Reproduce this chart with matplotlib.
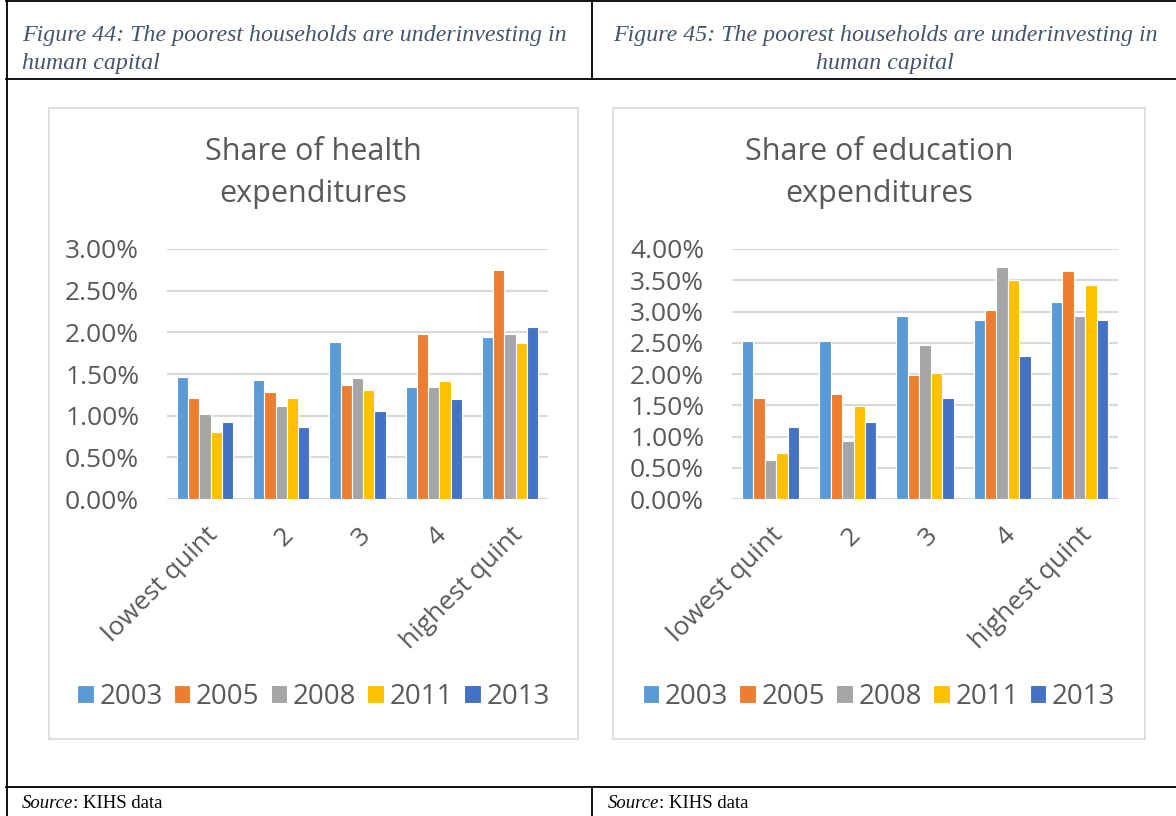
import matplotlib
matplotlib.use("Agg")
import matplotlib.pyplot as plt
from matplotlib.lines import Line2D
from matplotlib.patches import Rectangle
from matplotlib.ticker import FuncFormatter, MultipleLocator

quintiles = ["lowest quint", "2", "3", "4", "highest quint"]
years = ["2003", "2005", "2008", "2011", "2013"]
colors = ["#5B9BD5", "#ED7D31", "#A5A5A5", "#FFC000", "#4472C4"]

# share of household spending, % (rows = years, columns = quintiles)
health_2003 = [1.46, 1.43, 1.88, 1.34, 1.95]
health_2005 = [1.21, 1.28, 1.37, 1.98, 2.75]
health_2008 = [1.02, 1.12, 1.45, 1.35, 1.98]
health_2011 = [0.80, 1.21, 1.31, 1.42, 1.87]
health_2013 = [0.92, 0.87, 1.06, 1.20, 2.06]

educ_2003 = [2.53, 2.53, 2.93, 2.87, 3.15]
educ_2005 = [1.61, 1.68, 1.99, 3.03, 3.65]
educ_2008 = [0.62, 0.93, 2.47, 3.71, 2.93]
educ_2011 = [0.73, 1.49, 2.01, 3.50, 3.43]
educ_2013 = [1.16, 1.24, 1.62, 2.29, 2.87]

health = [health_2003, health_2005, health_2008, health_2011, health_2013]
educ = [educ_2003, educ_2005, educ_2008, educ_2011, educ_2013]

W, H = 1176, 816
GREY_TXT = "#595959"
GRID = "#D9D9D9"
CAPTION = "#44546A"
FONT = "Open Sans"

fig = plt.figure(figsize=(W / 100, H / 100), dpi=100)


def fx(px):
    return px / W


def fy(py):
    return 1 - py / H


def hline(y, x0, x1, **kw):
    fig.add_artist(Line2D([fx(x0), fx(x1)], [fy(y), fy(y)], transform=fig.transFigure, **kw))


def vline(x, y0, y1, **kw):
    fig.add_artist(Line2D([fx(x), fx(x)], [fy(y0), fy(y1)], transform=fig.transFigure, **kw))


# table borders
tbl = dict(color="black", lw=1.3)
hline(1, 6, W, **tbl)
hline(79, 6, W, **tbl)
hline(787, 6, W, **tbl)
vline(6.5, 0, H, **tbl)
vline(592, 0, 79, **tbl)
vline(592, 787, H, **tbl)

# captions
cap = dict(family="Liberation Serif", style="italic", color=CAPTION, fontsize=17.2)
fig.text(fx(22), fy(36), "Figure 44: The poorest households are underinvesting in",
         ha="left", va="center", **cap)
fig.text(fx(22), fy(63), "human capital", ha="left", va="center", **cap)
fig.text(fx(885), fy(36), "Figure 45: The poorest households are underinvesting in",
         ha="center", va="center", **cap)
fig.text(fx(885), fy(63), "human capital", ha="center", va="center", **cap)

# source lines
for x0 in (22, 608):
    t = fig.text(fx(x0), fy(803), "Source", family="Liberation Serif", style="italic",
                 fontsize=13.5, color="black", ha="left", va="center")
    fig.add_artist(plt.Annotation(": KIHS data", xy=(1, 0), xycoords=t, va="bottom",
                                  ha="left", family="Liberation Serif", fontsize=13.5,
                                  color="black"))


def draw_chart(box, plot, title, data, ymax):
    bx0, by0, bx1, by1 = box
    fig.add_artist(Rectangle((fx(bx0), fy(by1)), fx(bx1 - bx0), (by1 - by0) / H,
                             transform=fig.transFigure, fill=False, edgecolor=GRID, lw=1.2))
    cx = (bx0 + bx1) / 2
    fig.text(fx(cx), fy(152), title[0], ha="center", va="center",
             family=FONT, fontsize=22, color=GREY_TXT)
    fig.text(fx(cx), fy(194), title[1], ha="center", va="center",
             family=FONT, fontsize=22, color=GREY_TXT)

    px0, py0, px1, py1 = plot
    ax = fig.add_axes([fx(px0), fy(py1), fx(px1 - px0), (py1 - py0) / H])
    n = len(years)
    bw = 0.148
    x = range(len(quintiles))
    for i, (yr, vals) in enumerate(zip(years, data)):
        off = (i - (n - 1) / 2) * bw
        ax.bar([k + off for k in x], vals, bw, color=colors[i], edgecolor="white",
               lw=0.8, label=yr, zorder=3)
    ax.set_xlim(-0.5, len(quintiles) - 0.5)
    ax.set_ylim(0, ymax)
    ax.yaxis.set_major_locator(MultipleLocator(0.5))
    ax.yaxis.set_major_formatter(FuncFormatter(lambda v, p: f"{v:.2f}%"))
    ax.grid(axis="y", color=GRID, lw=1.5, zorder=0)
    for s in ax.spines.values():
        s.set_visible(False)
    ax.tick_params(axis="both", length=0, labelsize=19, labelcolor=GREY_TXT)
    ax.tick_params(axis="y", pad=20)
    ax.tick_params(axis="x", pad=17)
    ax.set_xticks(list(x))
    ax.set_xticklabels(quintiles, rotation=45, ha="right", va="top",
                       rotation_mode="anchor")
    for lab in ax.get_xticklabels() + ax.get_yticklabels():
        lab.set_family(FONT)
    leg = ax.legend(loc="center", bbox_to_anchor=(fx(cx), fy(697)),
                    bbox_transform=fig.transFigure, ncol=n, frameon=False,
                    handlelength=0.6, handleheight=0.6, handletextpad=0.2,
                    columnspacing=0.4, borderaxespad=0,
                    prop={"family": FONT, "size": 20})
    for t in leg.get_texts():
        t.set_color(GREY_TXT)
    return ax


draw_chart((49, 108, 578, 739), (167, 249, 548, 499),
           ("Share of health", "expenditures"), health, 3.0)
draw_chart((613, 108, 1145, 739), (732, 249, 1118, 499),
           ("Share of education", "expenditures"), educ, 4.0)

plt.savefig("out.png", dpi=100, facecolor="white")
